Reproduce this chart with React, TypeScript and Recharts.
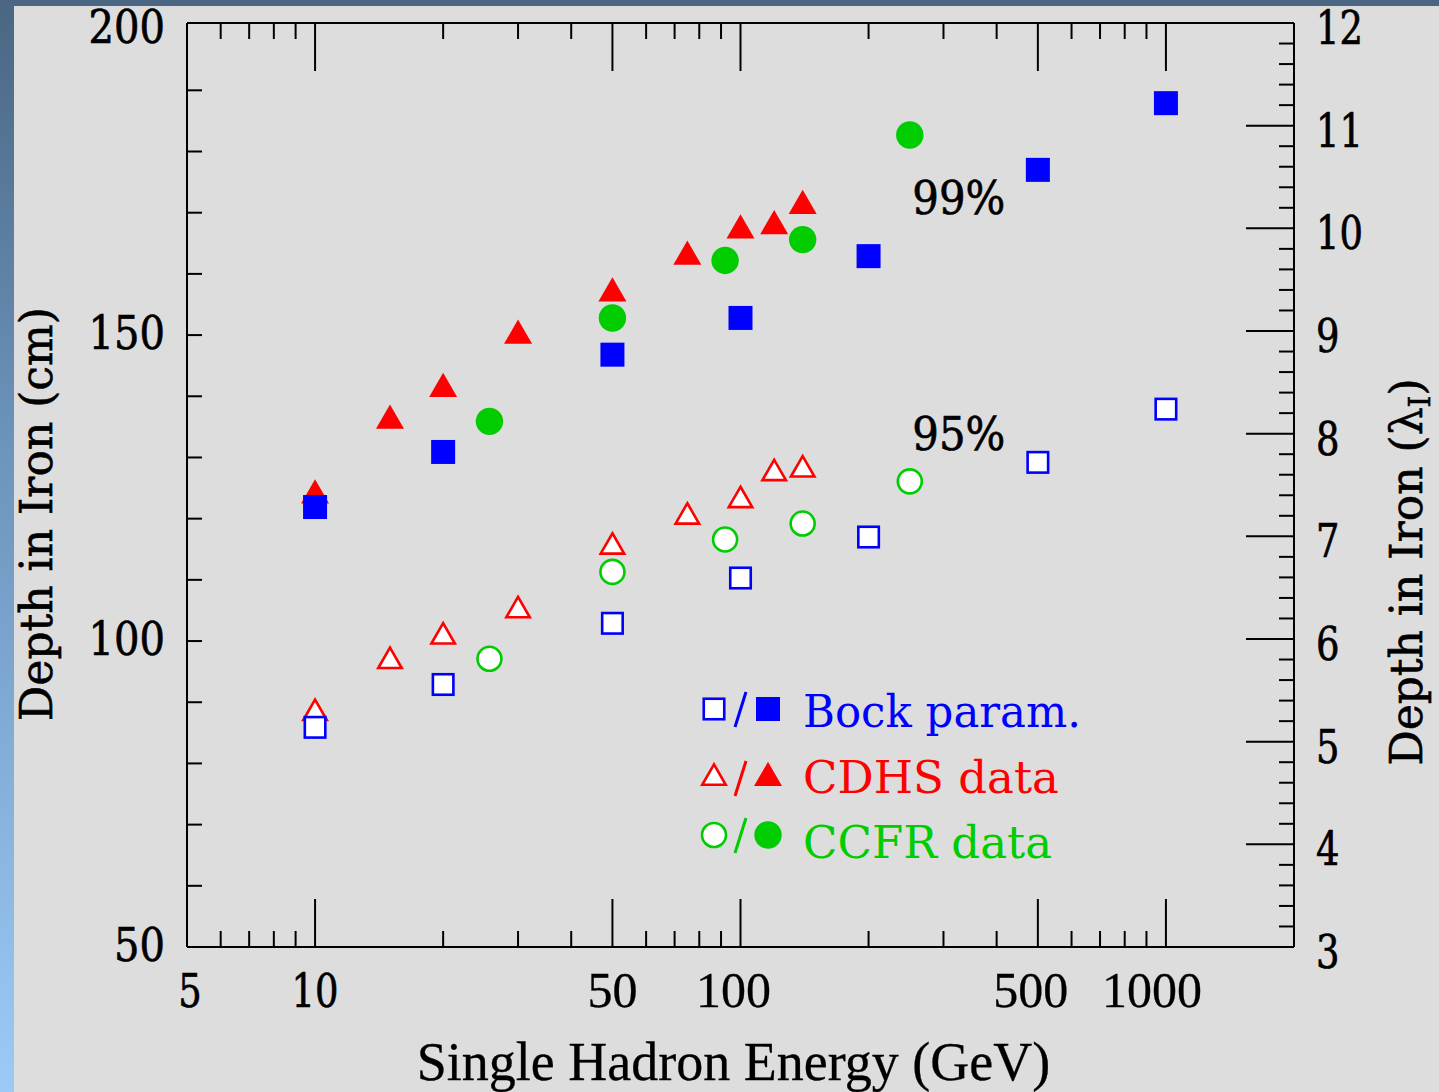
import React from 'react';
import { Label, ReferenceDot, Scatter, ScatterChart, XAxis, YAxis } from 'recharts';

const SERIF = '"Liberation Serif", "Times New Roman", serif';
const WIDE_SERIF = '"DejaVu Serif", serif';
const BLUE = '#0000ff';
const RED = '#ff0000';
const GREEN = '#00cc00';
const INK = '#000000';

// energies in GeV, depths in cm of iron
const bockEnergy = [10, 20, 50, 100, 200, 500, 1000];
const bock99 = [121.9, 130.9, 146.8, 152.8, 162.9, 177.0, 187.9];
const bock95 = [85.9, 92.9, 102.9, 110.3, 117.0, 129.2, 137.9];

const cdhsEnergy = [10, 15, 20, 30, 50, 75, 100, 120, 140];
const cdhs99 = [123.8, 136.0, 141.2, 149.9, 156.8, 162.8, 167.1, 167.8, 171.1];
const cdhs95 = [88.2, 96.7, 100.7, 105.0, 115.4, 120.3, 123.0, 127.4, 128.0];

const ccfrEnergy = [25.7, 50, 92, 140, 250];
const ccfr99 = [135.9, 152.8, 162.2, 165.6, 182.7];
const ccfr95 = [97.1, 111.3, 116.6, 119.2, 126.1];

// axis ticks
const energyTicks = [5, 6, 7, 8, 9, 10, 20, 30, 40, 50, 60, 70, 80, 90, 100, 200, 300, 400, 500, 600, 700, 800, 900, 1000];
const energyMajor = [10, 50, 100, 500, 1000];
const energyLabels = [5, 10, 50, 100, 500, 1000];
const energyWideLabels = [5, 10];
const cmTicks = [50, 60, 70, 80, 90, 100, 110, 120, 130, 140, 150, 160, 170, 180, 190, 200];
const cmLabels = [50, 100, 150, 200];
const lambdaLabels = [3, 4, 5, 6, 7, 8, 9, 10, 11, 12];
const lambdaTicks = Array.from({ length: 46 }, (_, i) => Math.round(30 + i * 2) / 10);

const percentMarks = [
  { text: '99%', energy: 326, depth: 172.5 },
  { text: '95%', energy: 326, depth: 134.0 },
];

const toPoints = (xs: number[], ys: number[]) => xs.map((x, i) => ({ energy: x, depth: ys[i] }));

type P = { cx?: number; cy?: number };

// heavy schoolbook-style numerals, squeezed to a fixed advance per character
const WideNum = ({ x, y, text, anchor, per = 25 }: { x: number; y: number; text: string; anchor: 'start' | 'middle' | 'end'; per?: number }) => (
  <text
    x={x}
    y={y}
    textAnchor={anchor}
    fontFamily={WIDE_SERIF}
    fontSize={46}
    fill={INK}
    stroke={INK}
    strokeWidth={0.7}
    textLength={text.length * per}
    lengthAdjust="spacingAndGlyphs"
  >
    {text}
  </text>
);

const square = (filled: boolean, color: string) => (p: P) => {
  const cx = p.cx ?? 0;
  const cy = p.cy ?? 0;
  const s = filled ? 24 : 20.5;
  return (
    <rect
      x={cx - s / 2}
      y={cy - s / 2}
      width={s}
      height={s}
      fill={filled ? color : '#ffffff'}
      stroke={filled ? 'none' : color}
      strokeWidth={2.6}
    />
  );
};

const triangle = (filled: boolean, color: string) => (p: P) => {
  const cx = p.cx ?? 0;
  const cy = p.cy ?? 0;
  const w = filled ? 28 : 23.5;
  const h = w * 0.866;
  const pts = `${cx},${cy - (2 * h) / 3} ${cx + w / 2},${cy + h / 3} ${cx - w / 2},${cy + h / 3}`;
  return (
    <polygon
      points={pts}
      fill={filled ? color : '#ffffff'}
      stroke={filled ? 'none' : color}
      strokeWidth={2.6}
      strokeLinejoin="miter"
    />
  );
};

const circle = (filled: boolean, color: string) => (p: P) => (
  <circle
    cx={p.cx ?? 0}
    cy={p.cy ?? 0}
    r={filled ? 13.7 : 12}
    fill={filled ? color : '#ffffff'}
    stroke={filled ? 'none' : color}
    strokeWidth={2.6}
  />
);

const legendRows = [
  { open: square(false, BLUE), filled: square(true, BLUE), color: BLUE, text: 'Bock param.', len: 278, cy: 709, base: 727 },
  { open: triangle(false, RED), filled: triangle(true, RED), color: RED, text: 'CDHS data', len: 256, cy: 778, base: 793 },
  { open: circle(false, GREEN), filled: circle(true, GREEN), color: GREEN, text: 'CCFR data', len: 249, cy: 835, base: 858 },
];

const EnergyTick = (props: any) => {
  const { x, y, payload } = props;
  const v = payload.value as number;
  const major = energyMajor.includes(v);
  const text = String(v);
  return (
    <g>
      {v !== 5 && <line x1={x} x2={x} y1={y} y2={y - (major ? 48 : 16)} stroke={INK} strokeWidth={2} />}
      {energyWideLabels.includes(v) ? (
        <WideNum x={x + (v === 5 ? 3 : 0)} y={y + 60} text={text} anchor="middle" per={23.5} />
      ) : (
        energyLabels.includes(v) && (
          <text
            x={x - (text.length > 2 ? (text.length - 2) * 7 : 0)}
            y={y + 60}
            textAnchor="middle"
            fontFamily={SERIF}
            fontSize={50}
            fill={INK}
            stroke={INK}
            strokeWidth={0.3}
          >
            {text}
          </text>
        )
      )}
    </g>
  );
};

const EnergyTopTick = (props: any) => {
  const { x, y, payload } = props;
  const v = payload.value as number;
  if (v === 5) return <g />;
  return <line x1={x} x2={x} y1={y} y2={y + (energyMajor.includes(v) ? 48 : 16)} stroke={INK} strokeWidth={2} />;
};

const CmTick = (props: any) => {
  const { x, y, payload } = props;
  const v = payload.value as number;
  return (
    <g>
      {v !== 50 && v !== 200 && <line x1={x} x2={x + 15} y1={y} y2={y} stroke={INK} strokeWidth={2} />}
      {cmLabels.includes(v) && <WideNum x={x - 22} y={y + 14} text={String(v)} anchor="end" per={25.5} />}
    </g>
  );
};

const LambdaTick = (props: any) => {
  const { x, y, payload } = props;
  const v = payload.value as number;
  const major = lambdaLabels.includes(v);
  return (
    <g>
      {v !== 3 && v !== 12 && <line x1={x} x2={x - (major ? 48 : 15)} y1={y} y2={y} stroke={INK} strokeWidth={2} />}
      {major && <WideNum x={x + 22} y={y + 21} text={String(v)} anchor="start" per={23.5} />}
    </g>
  );
};

const EnergyTitle = (props: any) => {
  const vb = props.viewBox ?? { x: 187, y: 947, width: 1107, height: 130 };
  return (
    <text
      x={vb.x + vb.width / 2 - 7}
      y={vb.y + 133}
      textAnchor="middle"
      fontFamily={SERIF}
      fontSize={54}
      fill={INK}
      stroke={INK}
      strokeWidth={0.3}
    >
      Single Hadron Energy (GeV)
    </text>
  );
};

const CmTitle = (props: any) => {
  const vb = props.viewBox ?? { x: 37, y: 23, width: 150, height: 924 };
  const ax = vb.x + 15;
  const ay = vb.y + vb.height / 2 + 29;
  return (
    <text
      x={ax}
      y={ay}
      transform={`rotate(-90, ${ax}, ${ay})`}
      textAnchor="middle"
      fontFamily={WIDE_SERIF}
      fontSize={44}
      fill={INK}
      stroke={INK}
      strokeWidth={0.6}
    >
      Depth in Iron (cm)
    </text>
  );
};

const LambdaTitle = (props: any) => {
  const vb = props.viewBox ?? { x: 1294, y: 23, width: 130, height: 924 };
  const ax = vb.x + 128;
  const ay = vb.y + vb.height / 2 + 87;
  return (
    <text
      x={ax}
      y={ay}
      transform={`rotate(-90, ${ax}, ${ay})`}
      textAnchor="middle"
      fontFamily={WIDE_SERIF}
      fontSize={44}
      fill={INK}
      stroke={INK}
      strokeWidth={0.6}
    >
      <tspan>Depth in Iron (λ</tspan>
      <tspan dy={8} fontSize={30}>
        I
      </tspan>
      <tspan dy={-8}>)</tspan>
    </text>
  );
};

const seriesList = [
  { name: 'CDHS 99%', data: toPoints(cdhsEnergy, cdhs99), shape: triangle(true, RED) },
  { name: 'CDHS 95%', data: toPoints(cdhsEnergy, cdhs95), shape: triangle(false, RED) },
  { name: 'CCFR 99%', data: toPoints(ccfrEnergy, ccfr99), shape: circle(true, GREEN) },
  { name: 'CCFR 95%', data: toPoints(ccfrEnergy, ccfr95), shape: circle(false, GREEN) },
  { name: 'Bock 99%', data: toPoints(bockEnergy, bock99), shape: square(true, BLUE) },
  { name: 'Bock 95%', data: toPoints(bockEnergy, bock95), shape: square(false, BLUE) },
];

export default function App() {
  return (
    <div
      style={{
        position: 'absolute',
        left: 0,
        top: 0,
        width: 1439,
        height: 1092,
        overflow: 'hidden',
        background: '#dddddd',
      }}
    >
      {/* slide frame */}
      <div style={{ position: 'absolute', left: 0, top: 0, width: 1439, height: 6, background: '#4a6682' }} />
      <div
        style={{
          position: 'absolute',
          left: 0,
          top: 0,
          width: 14,
          height: 1092,
          background: 'linear-gradient(to bottom, #4a6682 0%, #6b93bb 40%, #9ccaf7 100%)',
        }}
      />

      <ScatterChart width={1439} height={1092} margin={{ top: 22, right: 15, bottom: 15, left: 37 }}>
        <XAxis
          xAxisId="bottom"
          dataKey="energy"
          type="number"
          scale="log"
          domain={[5, 2000]}
          allowDataOverflow
          ticks={energyTicks}
          interval={0}
          tickSize={0}
          tickMargin={0}
          tickLine={false}
          tick={EnergyTick}
          height={130}
          axisLine={{ stroke: INK, strokeWidth: 2 }}
        >
          <Label content={EnergyTitle} />
        </XAxis>
        <XAxis
          xAxisId="top"
          orientation="top"
          dataKey="energy"
          type="number"
          scale="log"
          domain={[5, 2000]}
          allowDataOverflow
          ticks={energyTicks}
          interval={0}
          tickSize={0}
          tickMargin={0}
          tickLine={false}
          tick={EnergyTopTick}
          height={1}
          axisLine={{ stroke: INK, strokeWidth: 2 }}
        />
        <YAxis
          yAxisId="cm"
          dataKey="depth"
          type="number"
          domain={[50, 201]}
          allowDataOverflow
          ticks={cmTicks}
          interval={0}
          tickSize={0}
          tickMargin={0}
          tickLine={false}
          tick={CmTick}
          width={150}
          axisLine={{ stroke: INK, strokeWidth: 2 }}
        >
          <Label content={CmTitle} />
        </YAxis>
        <YAxis
          yAxisId="lambda"
          orientation="right"
          type="number"
          domain={[3, 12]}
          allowDataOverflow
          ticks={lambdaTicks}
          interval={0}
          tickSize={0}
          tickMargin={0}
          tickLine={false}
          tick={LambdaTick}
          width={130}
          axisLine={{ stroke: INK, strokeWidth: 2 }}
        >
          <Label content={LambdaTitle} />
        </YAxis>

        {seriesList.map((s) => (
          <Scatter
            key={s.name}
            name={s.name}
            data={s.data}
            xAxisId="bottom"
            yAxisId="cm"
            shape={s.shape}
            isAnimationActive={false}
          />
        ))}

        {percentMarks.map((m) => (
          <ReferenceDot
            key={m.text}
            x={m.energy}
            y={m.depth}
            xAxisId="bottom"
            yAxisId="cm"
            shape={(p: any) => (
              <text
                x={p.cx}
                y={p.cy + 17}
                textAnchor="middle"
                fontFamily={WIDE_SERIF}
                fontSize={47}
                fill={INK}
                stroke={INK}
                strokeWidth={0.7}
                textLength={93}
                lengthAdjust="spacingAndGlyphs"
              >
                {m.text}
              </text>
            )}
          />
        ))}
      </ScatterChart>

      {/* key: open = 95%, filled = 99% */}
      <svg
        width={1439}
        height={1092}
        style={{ position: 'absolute', left: 0, top: 0, pointerEvents: 'none' }}
      >
        {legendRows.map((r) => (
          <g key={r.text}>
            {r.open({ cx: 714, cy: r.cy })}
            <line x1={735} y1={r.cy + 18} x2={746} y2={r.cy - 17} stroke={r.color} strokeWidth={3} />
            {r.filled({ cx: 768, cy: r.cy })}
            <text
              x={803}
              y={r.base}
              fontFamily={WIDE_SERIF}
              fontSize={45}
              fill={r.color}
              textLength={r.len}
              lengthAdjust="spacingAndGlyphs"
            >
              {r.text}
            </text>
          </g>
        ))}
      </svg>
    </div>
  );
}
